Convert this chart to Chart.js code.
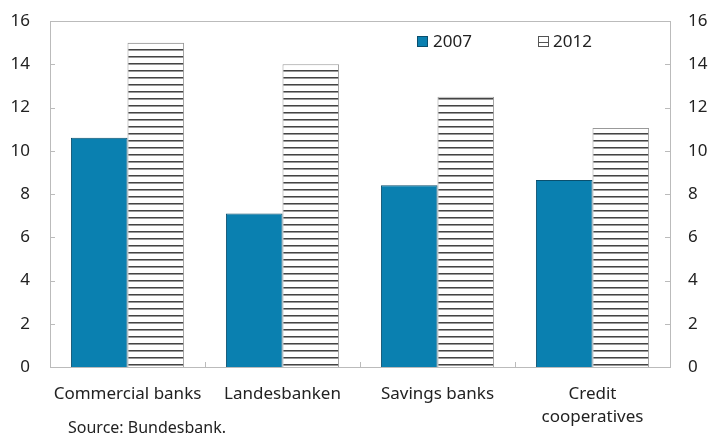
<!DOCTYPE html>
<html>
<head>
<meta charset="utf-8">
<script src="https://cdn.jsdelivr.net/npm/chart.js@4/dist/chart.umd.min.js"></script>
<style>
  html, body { margin: 0; padding: 0; background: #fff; }
  #wrap { width: 710px; height: 437px; }
</style>
</head>
<body>
<div id="wrap"><canvas id="bankChart" width="710" height="437"></canvas></div>
<script>
const categories = ["Commercial banks", "Landesbanken", "Savings banks", ["Credit", "cooperatives"]];
const years = ["2007", "2012"];
const values2007 = [10.6, 7.1, 8.4, 8.65];
const values2012 = [15.0, 14.0, 12.5, 11.05];
const yTicks = [0, 2, 4, 6, 8, 10, 12, 14, 16];
const sourceNote = "Source: Bundesbank.";

const FONT = "'Noto Sans', sans-serif";
const BLUE = "#0a80b0";

// horizontal stripes for the 2012 bars
function makeStripes() {
  const c = document.createElement("canvas");
  c.width = 8;
  c.height = 7;
  const g = c.getContext("2d");
  g.fillStyle = "#fff";
  g.fillRect(0, 0, 8, 7);
  g.fillStyle = "#444";
  g.fillRect(0, 0, 8, 1);
  g.fillStyle = "#999";
  g.fillRect(0, 1, 8, 1);
  return g.createPattern(c, "repeat");
}
const stripes = makeStripes();

const framePlugin = {
  id: "frame",
  afterDraw(chart) {
    const ctx = chart.ctx;
    const a = chart.chartArea;
    const y = chart.scales.y;
    const x = chart.scales.x;
    ctx.save();
    ctx.strokeStyle = "#bbb";
    ctx.lineWidth = 1;
    ctx.strokeRect(Math.round(a.left) + 0.5, Math.round(a.top) + 0.5,
      Math.round(a.right - a.left), Math.round(a.bottom - a.top));
    // inward ticks on both sides
    ctx.beginPath();
    yTicks.forEach((v) => {
      const py = Math.round(y.getPixelForValue(v)) + 0.5;
      ctx.moveTo(a.left, py); ctx.lineTo(a.left + 5, py);
      ctx.moveTo(a.right - 5, py); ctx.lineTo(a.right, py);
    });
    for (let i = 0; i < categories.length - 1; i++) {
      const px = Math.round((x.getPixelForTick(i) + x.getPixelForTick(i + 1)) / 2) + 0.5;
      ctx.moveTo(px, a.bottom); ctx.lineTo(px, a.bottom - 5);
    }
    ctx.stroke();

    // legend
    ctx.font = "17px " + FONT;
    ctx.textBaseline = "middle";
    const ly = 42;
    ctx.fillStyle = BLUE;
    ctx.fillRect(417, ly - 6, 11, 11);
    ctx.strokeStyle = "#0a4f6e";
    ctx.strokeRect(417.5, ly - 5.5, 10, 10);
    ctx.fillStyle = "#222";
    ctx.fillText(years[0], 433, ly);
    ctx.strokeStyle = "#555";
    ctx.strokeRect(538.5, ly - 5.5, 10, 10);
    ctx.beginPath();
    ctx.moveTo(538, ly + 0.5); ctx.lineTo(549, ly + 0.5);
    ctx.stroke();
    ctx.fillText(years[1], 553, ly);

    // source
    ctx.font = "16px " + FONT;
    ctx.fillText(sourceNote, 68, 428);
    ctx.restore();
  }
};

function fitY(w) {
  return (s) => {
    s.width = w;
    s.paddingTop = 0;
    s.paddingBottom = 0;
  };
}

new Chart(document.getElementById("bankChart"), {
  type: "bar",
  data: {
    labels: categories,
    datasets: [
      {
        label: years[0],
        data: values2007,
        backgroundColor: BLUE,
        borderColor: "#0a4f6e",
        borderWidth: 1,
        yAxisID: "y",
      },
      {
        label: years[1],
        data: values2012,
        backgroundColor: stripes,
        borderColor: "#999",
        borderWidth: 1,
        yAxisID: "y",
      },
    ],
  },
  options: {
    responsive: false,
    animation: false,
    events: [],
    layout: { padding: { top: 21, left: 0, right: 0, bottom: 0 } },
    datasets: { bar: { categoryPercentage: 0.73, barPercentage: 1 } },
    plugins: {
      legend: { display: false },
      tooltip: { enabled: false },
    },
    scales: {
      x: {
        grid: { display: false, drawTicks: false },
        border: { display: false },
        ticks: { color: "#222", font: { family: FONT, size: 17, lineHeight: 1.35 }, padding: 16, maxRotation: 0, autoSkip: false },
        afterFit: (s) => { s.height = 70; s.paddingLeft = 0; s.paddingRight = 0; },
      },
      y: {
        position: "left",
        min: 0,
        max: 16,
        afterBuildTicks: (s) => { s.ticks = yTicks.map((v) => ({ value: v })); },
        grid: { display: false, drawTicks: false },
        border: { display: false },
        ticks: { color: "#222", font: { family: FONT, size: 17 }, padding: 20 },
        afterFit: fitY(50),
      },
      y2: {
        position: "right",
        min: 0,
        max: 16,
        afterBuildTicks: (s) => { s.ticks = yTicks.map((v) => ({ value: v })); },
        grid: { display: false, drawTicks: false },
        border: { display: false },
        ticks: { color: "#222", font: { family: FONT, size: 17 }, padding: 18 },
        afterFit: fitY(40),
      },
    },
  },
  plugins: [framePlugin],
});
</script>
</body>
</html>
